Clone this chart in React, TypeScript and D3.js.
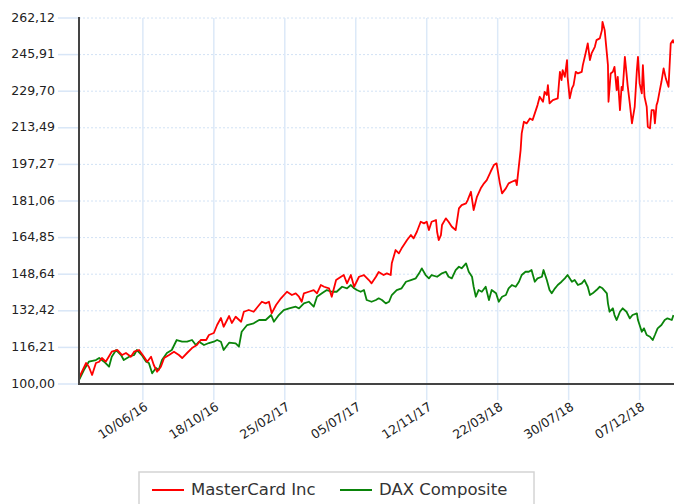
import React from "react";
import * as d3 from "d3";

// days since 14/02/2016, indexed value
const startDate = new Date(2016, 1, 14);
const spanDays = 1090;

const mastercard: [number, number][] = [
  [0, 102.66], [13, 109.3], [18, 107.66], [24, 103.99], [31, 109.3], [37, 109.87], [42, 111.51], [49, 109.87],
  [60, 114.3], [70, 115.06], [79, 112.84], [86, 113.73], [95, 112.09], [101, 114.3], [110, 115.06], [119, 112.09],
  [125, 109.87], [132, 112.09], [137, 108.41], [143, 105.45], [150, 107.66], [156, 111.51], [165, 112.84], [174, 114.3],
  [183, 112.84], [189, 111.51], [198, 113.73], [207, 115.94], [216, 117.27], [223, 119.48], [233, 119.48], [238, 121.7],
  [247, 122.58], [253, 126.13], [260, 129.22], [265, 125.37], [275, 130.11], [280, 127.01], [287, 129.8], [297, 127.59],
  [302, 132.01], [311, 132.77], [320, 132.01], [330, 134.98], [335, 136.44], [342, 135.73], [348, 136.44], [353, 131.31],
  [361, 134.98], [370, 137.95], [381, 140.87], [390, 139.41], [397, 140.16], [403, 138.66], [408, 136.44], [412, 140.16],
  [421, 140.87], [430, 141.62], [436, 140.16], [443, 143.84], [449, 143.08], [458, 142.38], [463, 138.66], [471, 146.05],
  [480, 147.51], [485, 148.27], [491, 144.59], [498, 148.27], [504, 143.08], [513, 147.51], [522, 148.27], [531, 146.05],
  [536, 144.59], [544, 147.51], [549, 149.59], [558, 148.27], [564, 149.02], [571, 148.27], [573, 153.45], [580, 159.34],
  [586, 157.87], [591, 160.09], [595, 161.55], [601, 163.76], [608, 165.98], [613, 164.52], [619, 167.44], [626, 171.87],
  [632, 171.16], [637, 171.87], [641, 168.19], [646, 171.87], [654, 172.62], [656, 167.44], [659, 163.76], [663, 165.98],
  [665, 170.41], [672, 173.37], [677, 171.87], [683, 169.65], [690, 168.19], [696, 177.8], [701, 179.26], [709, 180.02],
  [712, 181.48], [718, 185.15], [723, 177.05], [729, 182.94], [736, 186.66], [742, 188.87], [747, 190.33], [754, 194.01],
  [760, 196.97], [765, 197.73], [771, 188.87], [775, 184.44], [782, 186.66], [787, 188.87], [793, 189.58], [800, 190.33],
  [802, 188.12], [806, 196.97], [809, 203.62], [811, 211.01], [815, 216.15], [820, 215.44], [826, 217.65], [831, 216.9],
  [835, 219.87], [840, 223.54], [844, 227.22], [850, 225.0], [853, 229.43], [857, 227.97], [859, 232.4], [862, 224.29],
  [868, 225.76], [877, 226.51], [881, 238.29], [884, 234.61], [886, 239.04], [890, 236.07], [894, 243.47], [895, 236.07],
  [899, 226.51], [903, 230.94], [906, 232.4], [910, 238.29], [914, 237.58], [921, 238.29], [923, 241.26], [928, 246.43],
  [932, 250.86], [936, 243.47], [939, 246.43], [945, 249.36], [948, 252.32], [954, 253.08], [958, 256.75], [959, 260.43],
  [963, 256.75], [967, 246.43], [969, 241.26], [970, 225.0], [974, 237.58], [978, 238.29], [981, 240.5], [985, 230.18],
  [987, 236.07], [991, 221.33], [994, 231.64], [996, 230.18], [1000, 244.93], [1003, 237.58], [1005, 232.4], [1009, 224.29],
  [1013, 215.44], [1018, 222.79], [1022, 239.04], [1024, 244.93], [1027, 233.15], [1031, 228.72], [1033, 241.26], [1036, 227.22],
  [1040, 222.79], [1042, 213.93], [1046, 213.22], [1049, 221.33], [1053, 221.33], [1055, 215.44], [1058, 223.54], [1060, 225.0],
  [1064, 230.18], [1067, 233.86], [1071, 239.79], [1075, 235.37], [1077, 233.86], [1080, 231.64], [1084, 250.86], [1088, 252.32],
  [1089, 250.86],
];

const dax: [number, number][] = [
  [0, 101.77], [9, 106.2], [18, 109.87], [31, 110.63], [37, 111.51], [46, 109.87], [55, 107.66], [60, 112.09],
  [68, 115.06], [77, 112.84], [82, 110.63], [92, 112.09], [101, 112.84], [106, 115.06], [115, 112.84], [123, 109.87],
  [128, 109.3], [134, 104.74], [141, 107.08], [146, 106.2], [152, 110.63], [161, 113.73], [170, 115.06], [179, 119.48],
  [189, 118.73], [198, 118.73], [207, 119.48], [214, 117.27], [220, 118.73], [229, 117.27], [238, 118.15], [247, 118.73],
  [253, 119.48], [260, 118.73], [265, 115.06], [275, 118.29], [287, 118.02], [293, 116.52], [298, 123.16], [308, 126.13],
  [320, 126.88], [330, 128.34], [342, 128.34], [352, 130.55], [357, 127.59], [366, 130.55], [375, 132.77], [385, 133.52],
  [397, 134.23], [403, 133.52], [412, 135.73], [421, 136.44], [430, 134.23], [436, 138.66], [445, 140.16], [454, 141.62],
  [463, 140.87], [472, 140.87], [482, 143.08], [491, 142.38], [498, 143.84], [504, 142.38], [509, 141.62], [516, 140.87],
  [522, 141.62], [527, 137.2], [536, 136.44], [544, 137.2], [549, 137.95], [555, 137.2], [562, 135.73], [568, 136.44],
  [573, 139.41], [582, 141.62], [591, 142.38], [599, 145.3], [608, 146.05], [617, 146.8], [623, 149.02], [628, 151.23],
  [635, 148.27], [641, 146.8], [646, 148.27], [656, 147.51], [665, 149.02], [672, 149.73], [677, 147.51], [683, 146.8],
  [690, 150.48], [696, 151.94], [701, 151.23], [709, 153.45], [714, 149.73], [720, 147.51], [723, 143.08], [727, 138.66],
  [732, 141.62], [738, 140.87], [745, 143.08], [751, 137.2], [756, 141.62], [764, 140.16], [769, 136.44], [775, 138.66],
  [782, 139.41], [787, 142.38], [793, 143.84], [800, 143.08], [806, 145.3], [811, 148.27], [818, 149.73], [824, 149.73],
  [829, 150.48], [835, 145.3], [840, 146.8], [848, 147.51], [851, 150.48], [857, 146.05], [862, 141.62], [866, 140.16],
  [872, 142.38], [877, 143.84], [884, 145.3], [890, 146.8], [895, 148.27], [903, 145.3], [908, 146.05], [914, 143.84],
  [921, 144.59], [926, 146.05], [932, 143.08], [936, 139.41], [941, 140.16], [948, 141.62], [954, 143.08], [959, 142.38],
  [967, 140.16], [969, 135.73], [972, 132.01], [978, 133.52], [981, 130.55], [985, 128.34], [991, 132.01], [996, 133.52],
  [1003, 132.01], [1009, 129.09], [1014, 130.55], [1022, 131.31], [1024, 128.34], [1027, 126.13], [1031, 123.16], [1035, 124.66],
  [1040, 121.7], [1046, 120.94], [1051, 119.48], [1055, 121.7], [1060, 124.66], [1067, 126.13], [1073, 128.34], [1078, 129.09],
  [1086, 128.34], [1089, 130.55],
];

const yTicks = [100, 116.21, 132.42, 148.64, 164.85, 181.06, 197.27, 213.49, 229.7, 245.91, 262.12];
const xTickLabels = ["10/06/16", "18/10/16", "25/02/17", "05/07/17", "12/11/17", "22/03/18", "30/07/18", "07/12/18"];

const seriesNames = ["MasterCard Inc", "DAX Composite"];
const seriesColors = ["#ff0000", "#0a840a"];

const W = 674;
const H = 504;
const margin = { top: 18, right: 0, bottom: 120, left: 79 };
const font = "'DejaVu Sans', Verdana, sans-serif";

export default function App() {
  const parse = d3.timeParse("%d/%m/%y");
  const x = d3
    .scaleTime()
    .domain([startDate, d3.timeDay.offset(startDate, spanDays)])
    .range([margin.left, W - margin.right]);
  const y = d3.scaleLinear().domain([100, 262.12]).range([H - margin.bottom, margin.top]);

  const line = d3
    .line<[number, number]>()
    .x((d) => x(d3.timeDay.offset(startDate, d[0])))
    .y((d) => y(d[1]));

  const plotBottom = y(100);
  const xTicks = xTickLabels.map((s) => ({ label: s, date: parse(s) as Date }));

  return (
    <svg
      width={W}
      height={H}
      style={{ position: "absolute", left: 0, top: 0, background: "#fff" }}
      fontFamily={font}
    >
      {/* horizontal grid, dotted */}
      {yTicks.map((t) => (
        <g key={t}>
          <line x1={margin.left} x2={W} y1={y(t)} y2={y(t)} stroke="#d2e2f5" strokeWidth={1} strokeDasharray="2,2" />
          <line x1={58} x2={margin.left} y1={y(t)} y2={y(t)} stroke="#d8e6f7" strokeWidth={1.5} />
          <text x={55} y={y(t)} textAnchor="end" dominantBaseline="middle" fontSize={12.5} fill="#222">
            {t.toFixed(2).replace(".", ",")}
          </text>
        </g>
      ))}

      {/* vertical grid */}
      {xTicks.map((t) => (
        <g key={t.label}>
          <line
            x1={x(t.date)}
            x2={x(t.date)}
            y1={margin.top}
            y2={plotBottom + 16}
            stroke="#dce9f8"
            strokeWidth={1.5}
          />
          <text
            transform={`translate(${x(t.date) + 4},${plotBottom + 22}) rotate(-33)`}
            textAnchor="end"
            dominantBaseline="middle"
            fontSize={12.5}
            fill="#222"
          >
            {t.label}
          </text>
        </g>
      ))}

      {/* series */}
      <path d={line(dax) ?? ""} fill="none" stroke={seriesColors[1]} strokeWidth={1.8} strokeLinejoin="round" />
      <path d={line(mastercard) ?? ""} fill="none" stroke={seriesColors[0]} strokeWidth={1.8} strokeLinejoin="round" />

      {/* axes */}
      <line x1={margin.left} x2={margin.left} y1={margin.top - 1} y2={plotBottom + 1} stroke="#444" strokeWidth={2} />
      <line x1={margin.left} x2={W} y1={plotBottom} y2={plotBottom} stroke="#444" strokeWidth={2} />

      {/* legend */}
      <rect x={139} y={472} width={395} height={44} fill="#fff" stroke="#d4d4d4" strokeWidth={1.5} />
      {seriesNames.map((name, i) => {
        const lx = i === 0 ? 152 : 340;
        return (
          <g key={name}>
            <line x1={lx} x2={lx + 32} y1={490} y2={490} stroke={seriesColors[i]} strokeWidth={2} />
            <text x={lx + 39} y={490} dominantBaseline="middle" fontSize={16.5} fill="#333">
              {name}
            </text>
          </g>
        );
      })}
    </svg>
  );
}
